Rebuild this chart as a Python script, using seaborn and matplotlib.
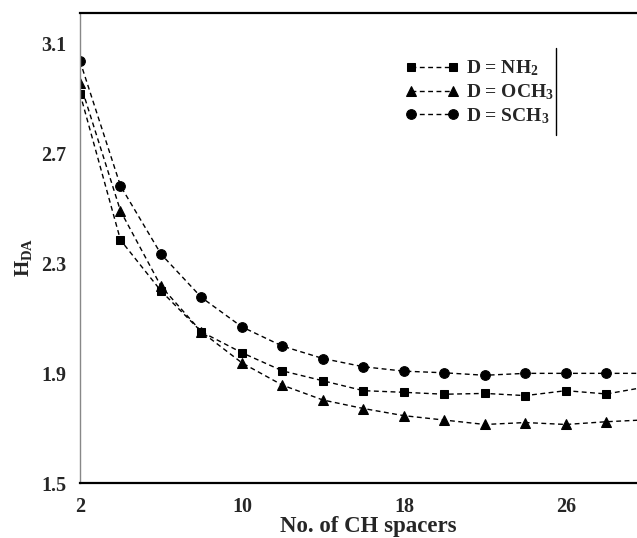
import pandas as pd
import matplotlib
matplotlib.use("Agg")
import matplotlib.pyplot as plt
import seaborn as sns
from matplotlib.lines import Line2D

# data (x = number of CH spacers)
spacers = [2, 4, 6, 8, 10, 12, 14, 16, 18, 20, 22, 24, 26, 28, 30]
h_nh2 = [2.917, 2.384, 2.199, 2.05, 1.974, 1.908, 1.872, 1.836, 1.83, 1.823,
         1.826, 1.818, 1.836, 1.824, 1.85]
h_och3 = [2.956, 2.49, 2.216, 2.05, 1.937, 1.856, 1.802, 1.771, 1.745, 1.729,
          1.713, 1.72, 1.713, 1.723, 1.73]
h_sch3 = [3.035, 2.581, 2.333, 2.175, 2.068, 1.998, 1.953, 1.923, 1.907, 1.901,
          1.892, 1.899, 1.899, 1.899, 1.899]
labels = ["D = NH$_2$", "D = OCH$_3$", "D = SCH$_3$"]
x_ticks = [2, 10, 18, 26]
y_ticks = [1.5, 1.9, 2.3, 2.7, 3.1]

sns.set_theme(style="white")
plt.rcParams["font.family"] = ["Liberation Serif", "DejaVu Serif"]
plt.rcParams["font.weight"] = "bold"
plt.rcParams["mathtext.default"] = "regular"

fig = plt.figure(figsize=(6.37, 5.38), dpi=100)
ax = fig.add_axes([0.1256, 0.1022, 0.874, 0.8736])

series = [(h_nh2, "s", 5.5), (h_och3, "^", 6.5), (h_sch3, "o", 7)]
for (vals, mk, ms), lab in zip(series, labels):
    sns.lineplot(x=spacers, y=vals, ax=ax, color="black", marker=mk,
                 markersize=ms, markeredgecolor="black", linewidth=1,
                 dashes=False, label=lab, clip_on=True)
for line in ax.get_lines():
    line.set_dashes((3.5, 2.5))

ax.set_xlim(2, 29.5)
ax.set_ylim(1.5, 3.21)
ax.set_xticks(x_ticks)
ax.set_yticks(y_ticks)
ax.set_xticklabels([str(t) for t in x_ticks])
ax.set_yticklabels([f"{t:.1f}" for t in y_ticks])
ax.tick_params(axis="both", length=0, labelsize=14.5, pad=10)
for lbl in ax.get_xticklabels() + ax.get_yticklabels():
    lbl.set_fontweight("bold")

ax.set_xlabel("No. of CH spacers", fontsize=16.5, fontweight="bold")
ax.set_ylabel("H$_{DA}$", fontsize=15, fontweight="bold")
ax.xaxis.set_label_coords(0.518, -0.071)
ax.yaxis.set_label_coords(-0.083, 0.48)

ax.spines["right"].set_visible(False)
ax.spines["left"].set_color("#888888")
ax.spines["left"].set_linewidth(1)
ax.spines["top"].set_color("black")
ax.spines["top"].set_linewidth(1.6)
ax.spines["bottom"].set_color("black")
ax.spines["bottom"].set_linewidth(1.6)

leg = ax.legend(loc="upper left", bbox_to_anchor=(0.552, 0.94), frameon=False,
                numpoints=2, handlelength=2.8, handletextpad=0.35,
                labelspacing=0.2, prop={"weight": "bold", "size": 14})
ax.add_line(Line2D([0.855, 0.855], [0.74, 0.926], transform=ax.transAxes,
                   color="black", linewidth=1))

fig.savefig("out.png", dpi=100)
